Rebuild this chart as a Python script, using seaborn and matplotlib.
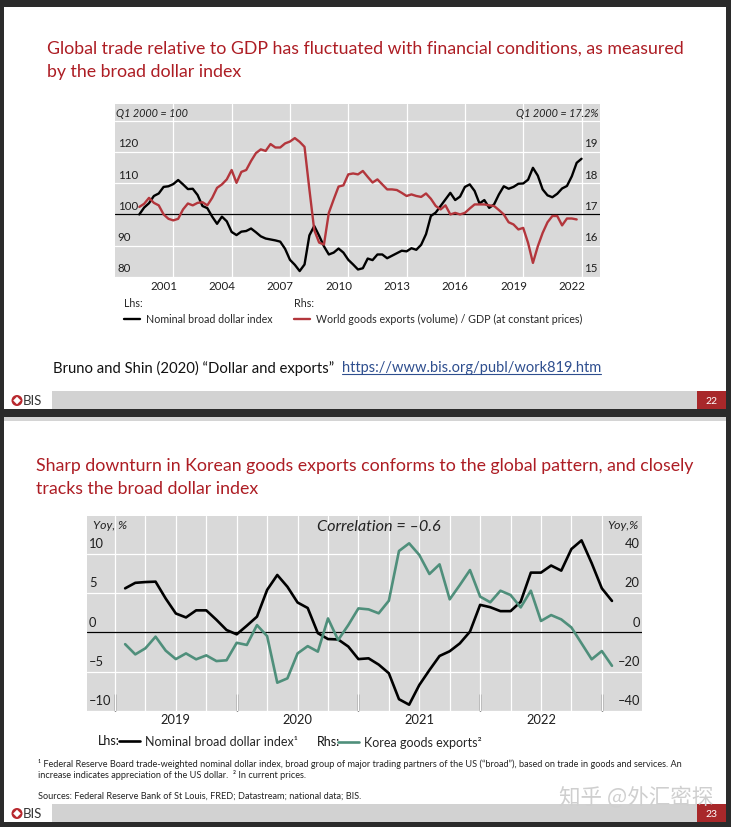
import matplotlib
matplotlib.use("Agg")
import matplotlib.pyplot as plt
from matplotlib.patches import Rectangle, Circle, Polygon
from matplotlib.transforms import ScaledTranslation
import numpy as np
import pandas as pd
import seaborn as sns

sns.set_style("white")
CHART_FONT = ["Lato", "DejaVu Sans"]
TITLE_FONT = ["Lato", "DejaVu Sans"]
plt.rcParams["font.family"] = CHART_FONT

# ==========================
# Data: slide 22 (quarterly, Q1 2000 - Q4 2022)
# ==========================
quarters = pd.period_range("2000Q1", "2022Q4", freq="Q")

# Nominal broad dollar index, Q1 2000 = 100 (lhs)
dollar_index = [
    100.0, 102.2, 103.6, 105.9, 106.7, 108.8, 109.0, 109.7, 111.0, 109.6,
    108.1, 108.2, 106.2, 102.7, 102.0, 99.3, 97.0, 99.3, 97.8, 94.4,
    93.4, 94.5, 94.7, 95.5, 94.3, 93.0, 92.3, 92.0, 91.7, 91.3,
    89.0, 85.5, 83.9, 81.9, 84.0, 93.3, 96.3, 93.2, 89.8, 87.2,
    87.8, 89.1, 87.8, 85.5, 84.0, 82.4, 82.8, 85.9, 85.4, 87.2,
    87.2, 86.0, 86.8, 87.6, 88.4, 88.2, 89.2, 88.7, 90.3, 93.7,
    99.5, 100.6, 102.7, 104.8, 106.9, 104.6, 105.7, 108.8, 109.6, 107.5,
    103.5, 104.6, 102.1, 103.2, 106.4, 109.0, 108.2, 108.8, 109.8, 109.9,
    111.1, 114.9, 112.4, 108.0, 106.1, 105.5, 106.6, 108.3, 109.1, 112.2,
    116.5, 117.8,
]

# World goods exports (volume) / GDP, % (rhs), Q1 2000 - Q3 2022
world_exports_gdp = [
    17.24, 17.34, 17.53, 17.37, 17.29, 17.00, 16.86, 16.81, 16.86, 17.16,
    17.35, 17.29, 17.37, 17.39, 17.29, 17.53, 17.85, 17.96, 18.12, 18.42,
    18.01, 18.36, 18.42, 18.71, 18.96, 19.08, 19.03, 19.25, 19.14, 19.14,
    19.27, 19.33, 19.44, 19.32, 19.16, 17.80, 16.50, 16.10, 16.04, 17.05,
    17.48, 17.89, 17.93, 18.28, 18.31, 18.28, 18.39, 18.20, 18.02, 18.12,
    17.96, 17.80, 17.80, 17.78, 17.69, 17.59, 17.64, 17.59, 17.56, 17.67,
    17.50, 17.27, 17.16, 17.29, 17.00, 17.05, 17.00, 17.05, 17.19, 17.32,
    17.32, 17.32, 17.29, 17.27, 17.14, 17.00, 16.75, 16.68, 16.52, 16.57,
    16.09, 15.45, 15.98, 16.41, 16.75, 16.95, 16.95, 16.65, 16.87, 16.87,
    16.84,
]

year_labels_1 = ["2001", "2004", "2007", "2010", "2013", "2016", "2019", "2022"]

# ==========================
# Data: slide 23 (monthly, Feb 2019 - Feb 2023)
# ==========================
months = pd.date_range("2019-02-01", "2023-02-01", freq="MS")

# Nominal broad dollar index, yoy % (lhs)
dollar_yoy = [
    5.6, 6.3, 6.4, 6.45, 4.3, 2.4, 1.9, 2.8, 2.8, 1.6,
    0.3, -0.25, 0.85, 2.0, 5.4, 7.3, 5.8, 3.8, 3.1, -0.1,
    -0.85, -0.9, -1.8, -3.4, -3.3, -4.1, -5.2, -8.5, -9.2, -6.7,
    -4.8, -3.0, -2.4, -1.4, 0.1, 3.5, 3.2, 2.7, 2.7, 3.9,
    7.6, 7.6, 8.5, 7.85, 10.6, 11.7, 8.8, 5.6, 4.0,
]

# Korea goods exports, yoy % (rhs)
korea_exports_yoy = [
    -6.0, -11.2, -8.1, -2.2, -9.3, -13.6, -10.7, -13.7, -11.7, -14.6,
    -14.2, -5.3, -6.4, 3.7, -1.9, -25.6, -23.4, -10.7, -7.0, -9.8,
    7.1, -3.9, 3.7, 12.2, 11.7, 9.7, 16.1, 41.4, 45.3, 39.4,
    29.7, 34.6, 16.8, 24.1, 31.7, 18.2, 15.3, 21.2, 19.0, 12.7,
    21.2, 5.8, 8.8, 6.6, 2.5, -5.6, -13.7, -9.5, -17.0,
]

year_labels_2 = ["2019", "2020", "2021", "2022"]

# decimal-year positions
x1 = [q.year + q.quarter / 4 for q in quarters]
x2 = [m.year + (m.month - 1) / 12 for m in months]

# ==========================
# Colours
# ==========================
FRAME = "#2b2b2b"
TITLE_RED = "#ad1d24"
PLOT_BG = "#d9d9d9"
RED_LINE = "#b3363c"
GREEN_LINE = "#4f8f7b"
TICK_COL = "#1e1e1e"

W, H = 731, 828
fig = plt.figure(figsize=(W / 100, H / 100), dpi=100, facecolor=FRAME)

# pixel-based background layer for the two slides
bg = fig.add_axes([0, 0, 1, 1])
bg.set_xlim(0, W)
bg.set_ylim(H, 0)
bg.axis("off")
bg.set_zorder(-5)


def px_axes(left, top, right, bottom):
    return fig.add_axes([left / W, 1 - bottom / H, (right - left) / W, (bottom - top) / H])


def footer(y0, page):
    bg.add_patch(Rectangle((52, y0), 645, 18, fc="#d2d2d2", ec="none"))
    bg.add_patch(Rectangle((697, y0), 29, 18, fc="#a8282a", ec="none"))
    yc = y0 + 9.5
    bg.add_patch(Circle((17, yc), 5.5, fc="#b8282e", ec="none"))
    bg.add_patch(Polygon([(17, yc - 3.8), (20.8, yc), (17, yc + 3.8), (13.2, yc)],
                         fc="white", ec="none"))
    bg.text(23, yc, "BIS", fontsize=9.5, color="#333333", va="center", ha="left")
    bg.text(711.5, yc, page, fontsize=7.5, color="white", va="center", ha="center")


# slide 22
bg.add_patch(Rectangle((4, 8), 722, 402, fc="white", ec="none"))
footer(392, "22")
# slide 23
bg.add_patch(Rectangle((4, 418), 722, 405, fc="white", ec="none"))
bg.add_patch(Rectangle((4, 418), 722, 4, fc="#d4d4d4", ec="none"))
footer(805, "23")

# titles
TITLE_SIZE = 12.8
bg.text(47, 49, "Global trade relative to GDP has fluctuated with financial conditions, as measured",
        color=TITLE_RED, fontsize=TITLE_SIZE, family=TITLE_FONT, va="center")
bg.text(47, 72, "by the broad dollar index",
        color=TITLE_RED, fontsize=TITLE_SIZE, family=TITLE_FONT, va="center")
bg.text(36, 466, "Sharp downturn in Korean goods exports conforms to the global pattern, and closely",
        color=TITLE_RED, fontsize=TITLE_SIZE, family=TITLE_FONT, va="center")
bg.text(36, 489, "tracks the broad dollar index",
        color=TITLE_RED, fontsize=TITLE_SIZE, family=TITLE_FONT, va="center")

# reference line with link
bg.text(53, 368, "Bruno and Shin (2020) \u201cDollar and exports\u201d",
        color="#111111", fontsize=10.7, family=TITLE_FONT, va="center")
link = bg.text(342, 368, "https://www.bis.org/publ/work819.htm",
               color="#2f4f8f", fontsize=10.5, family=TITLE_FONT, va="center")

up1 = ScaledTranslation(0, 2.6 / 72, fig.dpi_scale_trans)
up2 = ScaledTranslation(0, 3.3 / 72, fig.dpi_scale_trans)


def inner_labels(ax, side, offset):
    for lab in ax.get_yticklabels():
        lab.set_ha("left" if side == "left" else "right")
        lab.set_va("bottom")
        lab.set_transform(lab.get_transform() + offset)


# ==========================
# Chart 1
# ==========================
ax1 = px_axes(115, 105, 600, 278)
ax1.set_facecolor(PLOT_BG)
sns.lineplot(x=x1, y=dollar_index, ax=ax1, color="black", linewidth=1.7)
h_dollar1 = ax1.lines[-1]
ax1.axhline(100, color="black", linewidth=0.9, zorder=1.8)
ax1.set_xlim(1999.0, 2023.95)
ax1.set_ylim(80, 135.3)

ax1.set_xticks(np.arange(2002, 2024, 3))
ax1.set_xticks(np.arange(2001, 2023, 3) + 0.5, labels=year_labels_1, minor=True)
ax1.tick_params(axis="x", which="major", direction="in", length=5, width=1,
                color=TICK_COL, labelbottom=False)
ax1.tick_params(axis="x", which="minor", length=0, pad=2, labelsize=8.3, labelcolor=TICK_COL)
ax1.set_yticks([80, 90, 100, 110, 120, 130], labels=["80", "90", "100", "110", "120", ""])
ax1.tick_params(axis="y", length=0, pad=-2, labelsize=8.3, labelcolor=TICK_COL)
ax1.grid(axis="both", which="major", color="white", linewidth=0.9)
ax1.set_axisbelow(True)
ax1.set_xlabel("")
ax1.set_ylabel("")
for s in ax1.spines.values():
    s.set_visible(False)
inner_labels(ax1, "left", up1)

ax1r = ax1.twinx()
sns.lineplot(x=x1[:len(world_exports_gdp)], y=world_exports_gdp, ax=ax1r,
             color=RED_LINE, linewidth=1.7)
h_world = ax1r.lines[-1]
ax1r.set_ylim(15, 15 + (135.3 - 80) / 10)
ax1r.set_yticks([15, 16, 17, 18, 19])
ax1r.tick_params(axis="y", length=0, pad=-2, labelsize=8.3, labelcolor=TICK_COL)
ax1r.grid(False)
ax1r.set_ylabel("")
for s in ax1r.spines.values():
    s.set_visible(False)
inner_labels(ax1r, "right", up1)

ax1.text(0.003, 0.985, "Q1 2000 = 100", transform=ax1.transAxes, ha="left", va="top",
         style="italic", fontsize=7.8, color="#222222")
ax1.text(0.997, 0.985, "Q1 2000 = 17.2%", transform=ax1.transAxes, ha="right", va="top",
         style="italic", fontsize=7.8, color="#222222")

ax1.legend([h_dollar1], ["Nominal broad dollar index"], title="Lhs:", alignment="left",
           loc="upper left", bbox_to_anchor=(124, 298), bbox_transform=bg.transData,
           frameon=False, fontsize=7.7, title_fontsize=7.7, handlelength=1.5,
           handletextpad=0.6, borderpad=0, borderaxespad=0)
ax1r.legend([h_world], ["World goods exports (volume) / GDP (at constant prices)"],
            title="Rhs:", alignment="left", loc="upper left", bbox_to_anchor=(294, 298),
            bbox_transform=bg.transData, frameon=False, fontsize=7.7, title_fontsize=7.7,
            handlelength=1.5, handletextpad=0.6, borderpad=0, borderaxespad=0)

# ==========================
# Chart 2
# ==========================
ax2 = px_axes(87, 517, 642, 712)
ax2.set_facecolor(PLOT_BG)
sns.lineplot(x=x2, y=dollar_yoy, ax=ax2, color="black", linewidth=1.9)
h_dollar2 = ax2.lines[-1]
ax2.axhline(0, color="black", linewidth=0.9, zorder=1.8)
ax2.set_xlim(2018.77, 2023.33)
ax2.set_ylim(-10, 14.8)

ax2.set_xticks(np.arange(2019, 2023.01, 0.25))
ax2.set_xticks(np.arange(2019, 2023.1, 1 / 12), minor=True)
ax2.tick_params(axis="x", which="major", direction="in", length=7, width=1,
                color=TICK_COL, labelbottom=False)
ax2.tick_params(axis="x", which="minor", direction="in", length=4, width=1, color=TICK_COL)
ax2.set_yticks([-10, -5, 0, 5, 10], labels=["\u201310", "\u20135", "0", "5", "10"])
ax2.tick_params(axis="y", length=0, pad=-1.5, labelsize=9.3, labelcolor=TICK_COL)
ax2.grid(axis="both", which="major", color="white", linewidth=0.9)
ax2.set_axisbelow(True)
ax2.set_xlabel("")
ax2.set_ylabel("")
for s in ax2.spines.values():
    s.set_visible(False)
inner_labels(ax2, "left", up2)

sec = ax2.secondary_xaxis("bottom")
sec.set_xticks(np.arange(2019, 2024, 1), labels=[""] * 5)
sec.set_xticks(np.arange(2019, 2023, 1) + 0.5, labels=year_labels_2, minor=True)
sec.tick_params(axis="x", which="major", direction="in", length=12, width=1, color=TICK_COL)
sec.tick_params(axis="x", which="minor", length=0, pad=1.5, labelsize=9.3, labelcolor=TICK_COL)
for s in sec.spines.values():
    s.set_visible(False)

ax2r = ax2.twinx()
sns.lineplot(x=x2, y=korea_exports_yoy, ax=ax2r, color=GREEN_LINE, linewidth=1.9)
h_korea = ax2r.lines[-1]
ax2r.set_ylim(-40, 4 * 14.8)
ax2r.set_yticks([-40, -20, 0, 20, 40], labels=["\u201340", "\u201320", "0", "20", "40"])
ax2r.tick_params(axis="y", length=0, pad=-1.5, labelsize=9.3, labelcolor=TICK_COL)
ax2r.grid(False)
ax2r.set_ylabel("")
for s in ax2r.spines.values():
    s.set_visible(False)
inner_labels(ax2r, "right", up2)

ax2.text(0.01, 0.985, "Yoy, %", transform=ax2.transAxes, ha="left", va="top",
         style="italic", fontsize=8.8, color="#222222")
ax2.text(0.993, 0.985, "Yoy,%", transform=ax2.transAxes, ha="right", va="top",
         style="italic", fontsize=8.8, color="#222222")
ax2.text(0.526, 0.985, "Correlation = \u20130.6", transform=ax2.transAxes, ha="center",
         va="top", style="italic", fontsize=11.7, color="#222222")

bg.text(98, 741, "Lhs:", fontsize=9, color="#111111", va="center")
ax2.legend([h_dollar2], ["Nominal broad dollar index\u00b9"], loc="center left",
           bbox_to_anchor=(119, 742), bbox_transform=bg.transData, frameon=False,
           fontsize=9, handlelength=1.7, handletextpad=0.4, borderpad=0, borderaxespad=0)
bg.text(317, 742, "Rhs:", fontsize=9, color="#111111", va="center")
ax2r.legend([h_korea], ["Korea goods exports\u00b2"], loc="center left",
            bbox_to_anchor=(338, 743), bbox_transform=bg.transData, frameon=False,
            fontsize=9, handlelength=1.7, handletextpad=0.4, borderpad=0, borderaxespad=0)

# footnotes
FOOT = 6.6
bg.text(38, 764, "\u00b9 Federal Reserve Board trade-weighted nominal dollar index, broad group of major "
        "trading partners of the US (\u201cbroad\u201d), based on trade in goods and services. An",
        fontsize=FOOT, color="#222222", va="center")
bg.text(38, 775.5, "increase indicates appreciation of the US dollar.  \u00b2 In current prices.",
        fontsize=FOOT, color="#222222", va="center")
bg.text(38, 796, "Sources: Federal Reserve Bank of St Louis, FRED; Datastream; national data; BIS.",
        fontsize=FOOT, color="#222222", va="center")

# watermark
bg.text(636, 797, "知乎 @外汇密探", family=["Noto Sans CJK SC", "DejaVu Sans"],
        fontsize=15.5, color="#cfcfcf", ha="center", va="center")

# underline the link
fig.canvas.draw()
bb = link.get_window_extent()
inv = bg.transData.inverted()
(lx0, ly0), (lx1, ly1) = inv.transform([(bb.x0, bb.y0), (bb.x1, bb.y0)])
bg.plot([lx0, lx1], [ly0 - 0.5, ly1 - 0.5], color="#2f4f8f", linewidth=0.8)

fig.savefig("out.png", dpi=100, facecolor=FRAME)
